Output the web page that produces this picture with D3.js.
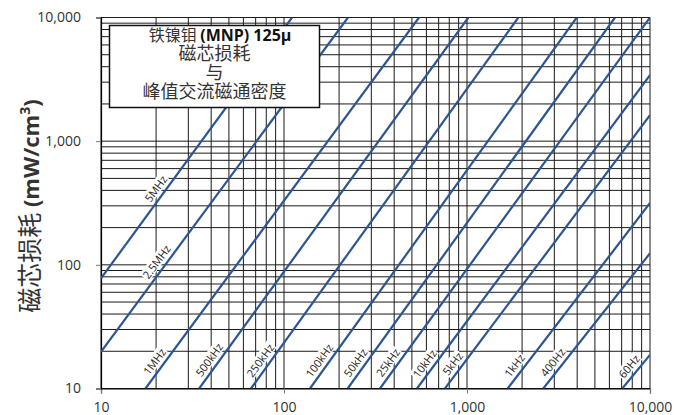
<!DOCTYPE html>
<html>
<head>
<meta charset="utf-8">
<script src="https://cdn.jsdelivr.net/npm/d3@7"></script>
<style>
  html, body { margin: 0; padding: 0; background: #fff; }
  svg { display: block; }
</style>
</head>
<body>
<div id="chart"></div>
<script>
// ---- Data ----
const freqLabels = ["5MHz", "2.5MHz", "1MHz", "500kHz", "250kHz", "100kHz", "50kHz", "25kHz", "10kHz", "5kHz", "1kHz", "400Hz", "60Hz"];
// each curve as two end points: (flux density, core loss)
const fluxStart = [10, 10, 17.5, 34.4, 66.0, 138.7, 222.9, 334.6, 533, 758, 1669, 2612, 7058];
const lossStart = [77.8, 19.8, 10, 10, 10, 10, 10, 10, 10, 10, 10, 10, 10];
const fluxEnd   = [110.6, 223.7, 546.7, 1017, 1907, 3977, 6437, 10000, 10000, 10000, 10000, 10000, 10000];
const lossEnd   = [10000, 10000, 10000, 10000, 10000, 10000, 10000, 10000, 3422, 1626, 316, 124, 18.7];
// loss value along each curve where its label sits
const labelLoss = [375, 96, 15, 15.5, 15.3, 15.3, 14.7, 14.7, 14.4, 14.4, 13.9, 14.7, 13.6];

const xTicks = [10, 100, 1000, 10000];
const yTicks = [10, 100, 1000, 10000];
const titleLines = ["磁芯损耗", "与", "峰值交流磁通密度"];
const yTitle = "磁芯损耗";

// ---- Layout ----
const W = 674, H = 415;
const mL = 101, mR = 650, mT = 17.5, mB = 388.5;
const lineColor = "#2c5591";
const latin = "'Open Sans', 'Noto Sans', sans-serif";
const cjk = "'Noto Sans CJK SC', 'Open Sans', sans-serif";

const svg = d3.select("#chart").append("svg").attr("width", W).attr("height", H);

const x = d3.scaleLog().domain([10, 10000]).range([mL, mR]);
const y = d3.scaleLog().domain([10, 10000]).range([mB, mT]);

// grid values: 1..9 per decade
const gridVals = [];
[10, 100, 1000].forEach(d => { for (let k = 1; k <= 9; k++) gridVals.push(d * k); });
gridVals.push(10000);

const grid = svg.append("g");
grid.selectAll("line.v").data(gridVals).join("line").attr("class", "v")
  .attr("x1", d => x(d)).attr("x2", d => x(d))
  .attr("y1", mT).attr("y2", mB)
  .attr("stroke", "#1a1a1a").attr("stroke-width", 1);
grid.selectAll("line.h").data(gridVals).join("line").attr("class", "h")
  .attr("y1", d => y(d)).attr("y2", d => y(d))
  .attr("x1", mL).attr("x2", mR)
  .attr("stroke", "#1a1a1a").attr("stroke-width", 1);

// axes (ticks + labels)
const xAxis = d3.axisBottom(x).tickValues(xTicks).tickFormat(d3.format(",")).tickSize(5).tickPadding(9);
const gx = svg.append("g").attr("transform", `translate(0,${mB})`).call(xAxis);
gx.select(".domain").attr("stroke", "#000").attr("stroke-width", 1.2);
gx.selectAll(".tick line").attr("stroke", "#777");
gx.selectAll("text").attr("font-family", latin).attr("font-size", 14).attr("fill", "#333");

const yAxis = d3.axisLeft(y).tickValues(yTicks).tickFormat(d3.format(",")).tickSize(5).tickPadding(15);
const gy = svg.append("g").attr("transform", `translate(${mL},0)`).call(yAxis);
gy.select(".domain").attr("stroke", "#000").attr("stroke-width", 1.2);
gy.selectAll(".tick line").attr("stroke", "#777");
gy.selectAll("text").attr("font-family", latin).attr("font-size", 14).attr("fill", "#333");

// curves
svg.append("clipPath").attr("id", "clip").append("rect")
  .attr("x", mL).attr("y", mT).attr("width", mR - mL).attr("height", mB - mT);
const curves = freqLabels.map((f, i) => ({
  f, pts: [[fluxStart[i], lossStart[i]], [fluxEnd[i], lossEnd[i]]], lab: labelLoss[i]
}));
const lineGen = d3.line().x(d => x(d[0])).y(d => y(d[1]));
svg.append("g").attr("clip-path", "url(#clip)")
  .selectAll("path").data(curves).join("path")
  .attr("d", d => lineGen(d.pts))
  .attr("fill", "none").attr("stroke", lineColor).attr("stroke-width", 2.2);

// curve labels
const labG = svg.append("g");
curves.forEach(c => {
  const [p0, p1] = c.pts;
  const x0 = x(p0[0]), y0 = y(p0[1]), x1 = x(p1[0]), y1 = y(p1[1]);
  const ang = Math.atan2(y1 - y0, x1 - x0); // negative (up-right)
  const py = y(c.lab);
  const t = (py - y0) / (y1 - y0);
  const px = x0 + t * (x1 - x0);
  const off = 8.5;
  const nx = Math.sin(ang) * off, ny = -Math.cos(ang) * off; // normal to upper-left
  const g = labG.append("g")
    .attr("transform", `translate(${px + nx},${py + ny}) rotate(${ang * 180 / Math.PI})`);
  const txt = g.append("text").text(c.f)
    .attr("text-anchor", "middle").attr("dy", "0.35em")
    .attr("font-family", latin).attr("font-size", 11).attr("fill", "#222");
  const bb = txt.node().getBBox();
  g.insert("rect", "text")
    .attr("x", bb.x - 1).attr("y", bb.y + 1.5).attr("width", bb.width + 2).attr("height", bb.height - 3)
    .attr("fill", "#fff");
});

// title box
svg.append("rect").attr("x", 109.5).attr("y", 25.5).attr("width", 210).attr("height", 82)
  .attr("fill", "#fff").attr("stroke", "#111").attr("stroke-width", 1.5);
const t1 = svg.append("text").attr("x", 220).attr("y", 41).attr("text-anchor", "middle").attr("font-size", 16);
t1.append("tspan").text("铁镍钼 ").attr("font-family", cjk).attr("fill", "#333");
t1.append("tspan").text("(MNP) 125μ").attr("font-family", latin).attr("font-weight", "bold").attr("fill", "#111");
const tb = [59.5, 78.5, 98];
titleLines.forEach((s, i) => {
  svg.append("text").attr("x", 214.5).attr("y", tb[i]).attr("text-anchor", "middle")
    .attr("font-family", cjk).attr("font-size", 18).attr("fill", "#333").text(s);
});

// y-axis title
const yt = svg.append("text").attr("transform", "translate(39,206) rotate(-90)")
  .attr("text-anchor", "middle").attr("fill", "#333");
yt.append("tspan").text(yTitle + " ").attr("font-family", cjk).attr("font-size", 25);
yt.append("tspan").text("(mW/cm").attr("font-family", latin).attr("font-weight", "bold").attr("font-size", 22);
yt.append("tspan").text("3").attr("font-family", latin).attr("font-weight", "bold").attr("font-size", 14).attr("dy", "-9");
yt.append("tspan").text(")").attr("font-family", latin).attr("font-weight", "bold").attr("font-size", 22).attr("dy", "9");
</script>
</body>
</html>
